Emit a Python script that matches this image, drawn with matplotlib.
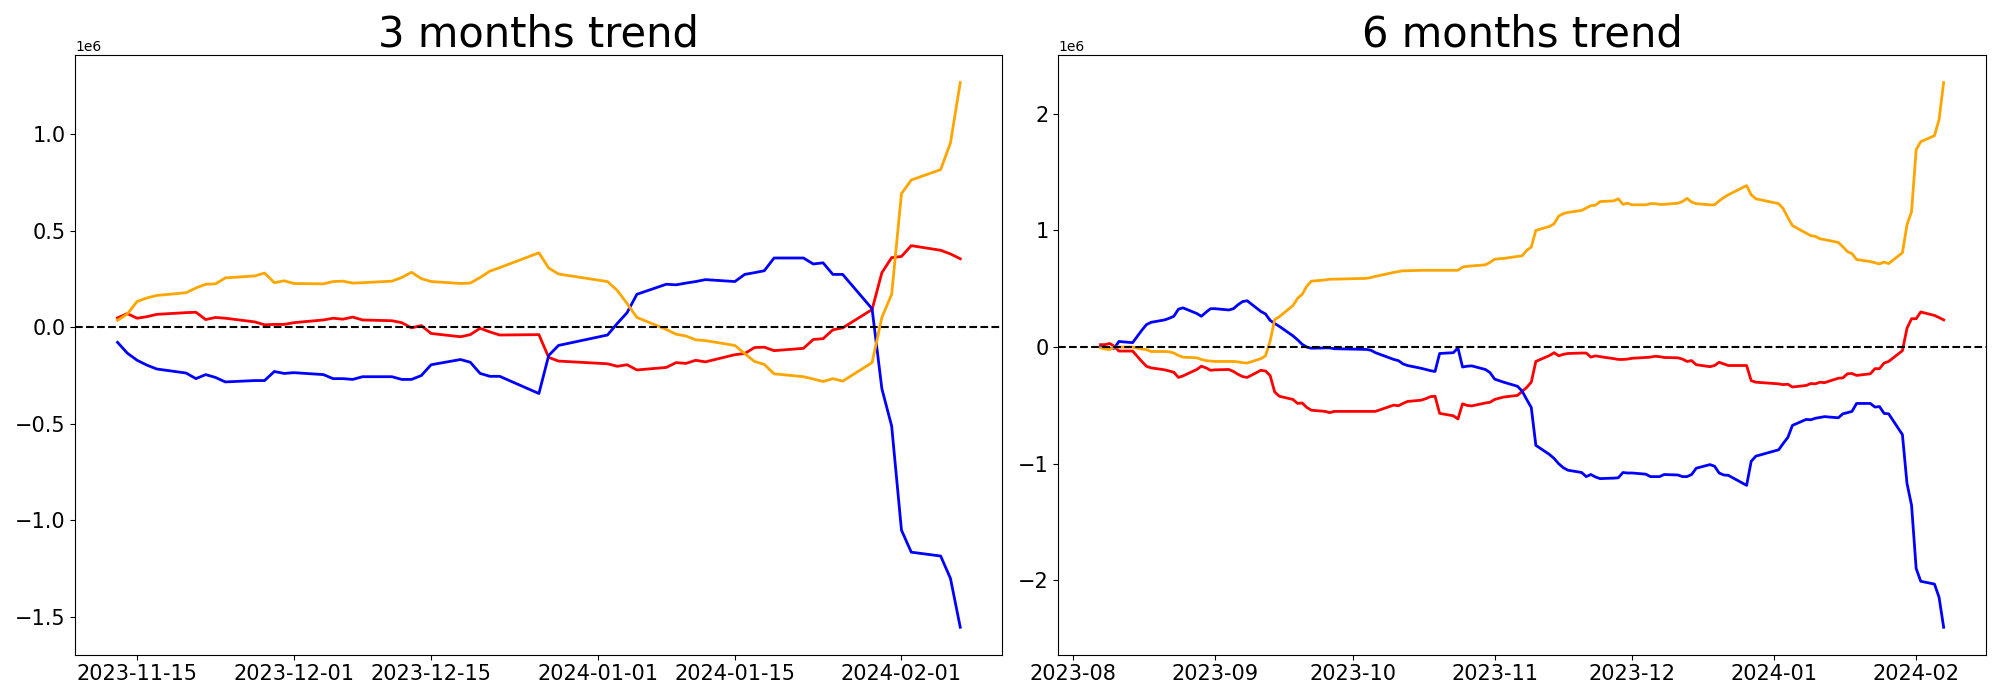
import matplotlib
matplotlib.use("Agg")
import matplotlib.pyplot as plt
import pandas as pd

# ---------------- 3 months data (values in units of 1e6) ----------------
dates_3m = [
    "2023-11-13", "2023-11-14", "2023-11-15", "2023-11-16", "2023-11-17",
    "2023-11-20", "2023-11-21", "2023-11-22", "2023-11-23", "2023-11-24",
    "2023-11-27", "2023-11-28", "2023-11-29", "2023-11-30", "2023-12-01",
    "2023-12-04", "2023-12-05", "2023-12-06", "2023-12-07", "2023-12-08",
    "2023-12-11", "2023-12-12", "2023-12-13", "2023-12-14", "2023-12-15",
    "2023-12-18", "2023-12-19", "2023-12-20", "2023-12-21", "2023-12-22",
    "2023-12-26", "2023-12-27", "2023-12-28",
    "2024-01-02", "2024-01-03", "2024-01-04", "2024-01-05",
    "2024-01-08", "2024-01-09", "2024-01-10", "2024-01-11", "2024-01-12",
    "2024-01-15", "2024-01-16", "2024-01-17", "2024-01-18", "2024-01-19",
    "2024-01-22", "2024-01-23", "2024-01-24", "2024-01-25", "2024-01-26",
    "2024-01-29", "2024-01-30", "2024-01-31", "2024-02-01", "2024-02-02",
    "2024-02-05", "2024-02-06", "2024-02-07",
]
red_3m = [
    0.048, 0.070, 0.046, 0.054, 0.066,
    0.075, 0.077, 0.039, 0.050, 0.046,
    0.027, 0.012, 0.014, 0.014, 0.023,
    0.037, 0.046, 0.041, 0.052, 0.037,
    0.033, 0.023, -0.004, 0.008, -0.033,
    -0.050, -0.039, -0.006, -0.025, -0.041,
    -0.039, -0.157, -0.176,
    -0.190, -0.203, -0.195, -0.222,
    -0.209, -0.184, -0.188, -0.172, -0.180,
    -0.143, -0.137, -0.106, -0.104, -0.122,
    -0.110, -0.064, -0.060, -0.014, -0.004,
    0.091, 0.282, 0.360, 0.366, 0.422,
    0.398, 0.379, 0.354,
]
blue_3m = [
    -0.079, -0.135, -0.172, -0.197, -0.217,
    -0.238, -0.267, -0.246, -0.261, -0.284,
    -0.277, -0.277, -0.230, -0.240, -0.236,
    -0.246, -0.267, -0.267, -0.271, -0.257,
    -0.257, -0.271, -0.271, -0.251, -0.195,
    -0.168, -0.182, -0.240, -0.255, -0.255,
    -0.344, -0.147, -0.095,
    -0.041, 0.019, 0.075, 0.170,
    0.222, 0.219, 0.228, 0.236, 0.246,
    0.236, 0.273, 0.282, 0.292, 0.358,
    0.358, 0.327, 0.333, 0.273, 0.273,
    0.095, -0.319, -0.513, -1.052, -1.166,
    -1.186, -1.302, -1.555,
]
orange_3m = [
    0.035, 0.068, 0.133, 0.151, 0.164,
    0.178, 0.203, 0.222, 0.224, 0.255,
    0.265, 0.280, 0.230, 0.240, 0.226,
    0.224, 0.236, 0.238, 0.228, 0.230,
    0.238, 0.257, 0.284, 0.251, 0.236,
    0.226, 0.228, 0.257, 0.290, 0.308,
    0.385, 0.306, 0.275,
    0.236, 0.190, 0.122, 0.050,
    -0.012, -0.037, -0.046, -0.066, -0.070,
    -0.095, -0.137, -0.178, -0.193, -0.242,
    -0.257, -0.269, -0.282, -0.267, -0.280,
    -0.184, 0.050, 0.170, 0.692, 0.762,
    0.816, 0.954, 1.267,
]

# ---------------- 6 months data (values in units of 1e6) ----------------
dates_6m = [
    "2023-08-07", "2023-08-08", "2023-08-09", "2023-08-10", "2023-08-11",
    "2023-08-14", "2023-08-16", "2023-08-17", "2023-08-18",
    "2023-08-21", "2023-08-22", "2023-08-23", "2023-08-24", "2023-08-25",
    "2023-08-28", "2023-08-29", "2023-08-30", "2023-08-31", "2023-09-01",
    "2023-09-04", "2023-09-05", "2023-09-06", "2023-09-07", "2023-09-08",
    "2023-09-11", "2023-09-12", "2023-09-13", "2023-09-14", "2023-09-15",
    "2023-09-18", "2023-09-19", "2023-09-20", "2023-09-21", "2023-09-22",
    "2023-09-25", "2023-09-26", "2023-09-27",
    "2023-10-04", "2023-10-05", "2023-10-06",
    "2023-10-10", "2023-10-11", "2023-10-12", "2023-10-13",
    "2023-10-16", "2023-10-17", "2023-10-18", "2023-10-19", "2023-10-20",
    "2023-10-23", "2023-10-24", "2023-10-25", "2023-10-26", "2023-10-27",
    "2023-10-30", "2023-10-31", "2023-11-01", "2023-11-02", "2023-11-03",
    "2023-11-06", "2023-11-07", "2023-11-08", "2023-11-09", "2023-11-10",
    "2023-11-13", "2023-11-14", "2023-11-15", "2023-11-16", "2023-11-17",
    "2023-11-20", "2023-11-21", "2023-11-22", "2023-11-23", "2023-11-24",
    "2023-11-27", "2023-11-28", "2023-11-29", "2023-11-30", "2023-12-01",
    "2023-12-04", "2023-12-05", "2023-12-06", "2023-12-07", "2023-12-08",
    "2023-12-11", "2023-12-12", "2023-12-13", "2023-12-14", "2023-12-15",
    "2023-12-18", "2023-12-19", "2023-12-20", "2023-12-21", "2023-12-22",
    "2023-12-26", "2023-12-27", "2023-12-28",
    "2024-01-02", "2024-01-03", "2024-01-04", "2024-01-05",
    "2024-01-08", "2024-01-09", "2024-01-10", "2024-01-11", "2024-01-12",
    "2024-01-15", "2024-01-16", "2024-01-17", "2024-01-18", "2024-01-19",
    "2024-01-22", "2024-01-23", "2024-01-24", "2024-01-25", "2024-01-26",
    "2024-01-29", "2024-01-30", "2024-01-31", "2024-02-01", "2024-02-02",
    "2024-02-05", "2024-02-06", "2024-02-07",
]
red_6m = [
    0.021, 0.021, 0.031, 0.007, -0.034,
    -0.034, -0.123, -0.164, -0.178,
    -0.195, -0.205, -0.216, -0.260, -0.247,
    -0.192, -0.164, -0.178, -0.199, -0.195,
    -0.192, -0.209, -0.233, -0.253, -0.260,
    -0.199, -0.205, -0.243, -0.384, -0.421,
    -0.449, -0.483, -0.479, -0.517, -0.541,
    -0.551, -0.562, -0.551,
    -0.551, -0.551, -0.551,
    -0.497, -0.503, -0.483, -0.466,
    -0.455, -0.442, -0.425, -0.421, -0.568,
    -0.589, -0.616, -0.486, -0.500, -0.504,
    -0.479, -0.473, -0.449, -0.438, -0.428,
    -0.414, -0.380, -0.346, -0.301, -0.123,
    -0.072, -0.048, -0.075, -0.062, -0.055,
    -0.051, -0.051, -0.086, -0.075, -0.082,
    -0.099, -0.106, -0.106, -0.103, -0.096,
    -0.089, -0.086, -0.079, -0.082, -0.089,
    -0.092, -0.103, -0.123, -0.116, -0.151,
    -0.168, -0.158, -0.130, -0.144, -0.158,
    -0.158, -0.288, -0.301,
    -0.315, -0.322, -0.318, -0.342,
    -0.329, -0.312, -0.315, -0.301, -0.305,
    -0.267, -0.264, -0.229, -0.226, -0.243,
    -0.229, -0.185, -0.185, -0.137, -0.123,
    -0.031, 0.161, 0.243, 0.243, 0.301,
    0.271, 0.253, 0.233,
]
blue_6m = [
    0.000, 0.000, -0.010, -0.010, 0.048,
    0.038, 0.144, 0.192, 0.212,
    0.233, 0.247, 0.264, 0.325, 0.336,
    0.288, 0.264, 0.298, 0.329, 0.329,
    0.318, 0.329, 0.363, 0.390, 0.397,
    0.305, 0.284, 0.229, 0.202, 0.178,
    0.096, 0.062, 0.024, 0.000, -0.010,
    -0.007, -0.007, -0.014,
    -0.020, -0.027, -0.048,
    -0.106, -0.116, -0.144, -0.158,
    -0.182, -0.192, -0.202, -0.209, -0.055,
    -0.048, -0.007, -0.171, -0.164, -0.161,
    -0.192, -0.219, -0.274, -0.288, -0.301,
    -0.336, -0.377, -0.449, -0.517, -0.842,
    -0.921, -0.955, -1.000, -1.034, -1.055,
    -1.075, -1.110, -1.092, -1.113, -1.127,
    -1.123, -1.120, -1.075, -1.079, -1.079,
    -1.089, -1.110, -1.110, -1.110, -1.092,
    -1.096, -1.110, -1.110, -1.092, -1.038,
    -1.007, -1.021, -1.079, -1.096, -1.099,
    -1.185, -0.979, -0.935,
    -0.880, -0.825, -0.774, -0.671,
    -0.620, -0.623, -0.610, -0.603, -0.596,
    -0.606, -0.572, -0.562, -0.551, -0.483,
    -0.483, -0.514, -0.510, -0.568, -0.572,
    -0.750, -1.168, -1.356, -1.897, -2.007,
    -2.031, -2.144, -2.401,
]
orange_6m = [
    -0.007, -0.017, -0.021, 0.000, 0.000,
    0.000, -0.017, -0.021, -0.038,
    -0.038, -0.041, -0.051, -0.072, -0.086,
    -0.092, -0.106, -0.116, -0.120, -0.123,
    -0.123, -0.123, -0.127, -0.134, -0.137,
    -0.099, -0.075, 0.050, 0.235, 0.260,
    0.356, 0.418, 0.452, 0.521, 0.565,
    0.575, 0.582, 0.582,
    0.589, 0.596, 0.606,
    0.640, 0.647, 0.654, 0.654,
    0.658, 0.658, 0.658, 0.658, 0.658,
    0.658, 0.658, 0.685, 0.692, 0.695,
    0.705, 0.726, 0.753, 0.757, 0.760,
    0.777, 0.781, 0.829, 0.856, 1.000,
    1.034, 1.058, 1.123, 1.144, 1.154,
    1.171, 1.192, 1.212, 1.216, 1.247,
    1.253, 1.271, 1.223, 1.233, 1.219,
    1.219, 1.229, 1.229, 1.223, 1.223,
    1.233, 1.247, 1.274, 1.243, 1.229,
    1.219, 1.219, 1.253, 1.281, 1.305,
    1.384, 1.305, 1.271,
    1.229, 1.185, 1.110, 1.041,
    0.976, 0.955, 0.949, 0.928, 0.921,
    0.897, 0.860, 0.818, 0.801, 0.750,
    0.733, 0.723, 0.712, 0.729, 0.716,
    0.808, 1.048, 1.161, 1.692, 1.760,
    1.812, 1.949, 2.267,
]

titles = ["3 months trend", "6 months trend"]
SCALE = 1e6

fig = plt.figure(figsize=(20, 7), dpi=100)
ax1 = fig.add_axes([0.0377, 0.065, 0.4635, 0.856])
ax2 = fig.add_axes([0.5292, 0.065, 0.4637, 0.856])

panels = [
    (ax1, dates_3m, red_3m, blue_3m, orange_3m, titles[0]),
    (ax2, dates_6m, red_6m, blue_6m, orange_6m, titles[1]),
]
for ax, d, r, b, o, t in panels:
    x = pd.to_datetime(d)
    ax.plot(x, [v * SCALE for v in r], color="red", lw=2)
    ax.plot(x, [v * SCALE for v in b], color="blue", lw=2)
    ax.plot(x, [v * SCALE for v in o], color="orange", lw=2)
    ax.axhline(0, color="black", linestyle="--", lw=1.5)
    ax.set_title(t, fontsize=30)
    ax.tick_params(labelsize=15)

fig.savefig("out.png", dpi=100)
